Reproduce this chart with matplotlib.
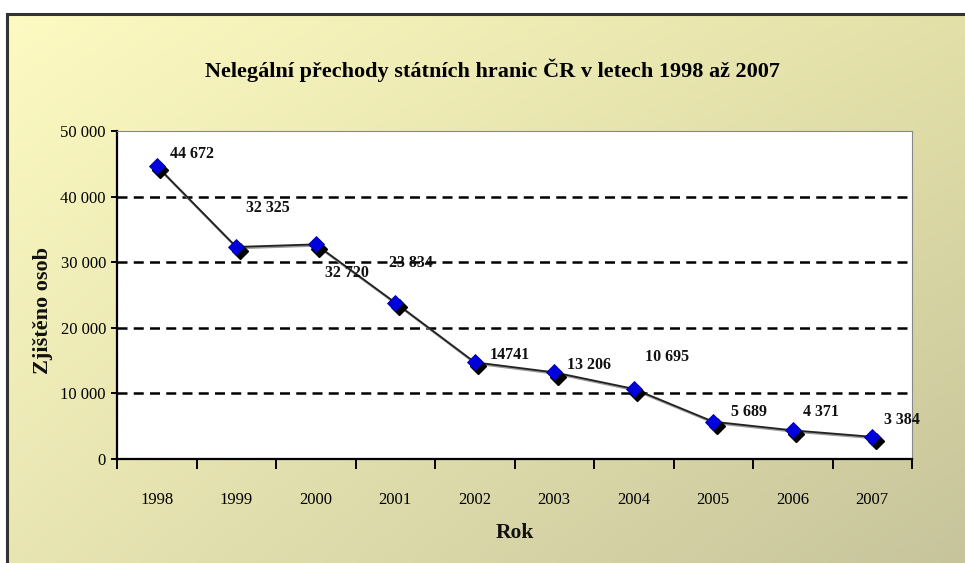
import numpy as np
import matplotlib
matplotlib.use("Agg")
import matplotlib.pyplot as plt
from matplotlib.transforms import offset_copy
from matplotlib.ticker import FuncFormatter, FixedLocator

years = ["1998", "1999", "2000", "2001", "2002", "2003", "2004", "2005", "2006", "2007"]
values = [44672, 32325, 32720, 23834, 14741, 13206, 10695, 5689, 4371, 3384]
value_labels = ["44 672", "32 325", "32 720", "23 834", "14741", "13 206", "10 695", "5 689", "4 371", "3 384"]
title = "Nelegální přechody státních hranic ČR v letech 1998 až 2007"
xlabel = "Rok"
ylabel = "Zjištěno osob"

# label offsets in pixels (dx to left edge, dy of center; positive = up)
label_dx = [13, 10, 9, -6, 15, 13, 11, 18, 10, 12]
label_dy = [12, 39, -29, 40, 7, 7, 32, 10, 18, 17]

W, H = 965, 563
fig = plt.figure(figsize=(W / 100, H / 100), dpi=100)
fig.patch.set_facecolor("white")

# background gradient panel
bg = fig.add_axes([7 / W, 0, 1 - 7 / W, 1 - 14 / H])
bg.set_axis_off()
c_tl = np.array([0.99, 0.98, 0.76])
c_tr = np.array([0.89, 0.88, 0.66])
c_bl = np.array([0.91, 0.90, 0.70])
c_br = np.array([0.78, 0.77, 0.61])
ny, nx = 60, 100
u = np.linspace(0, 1, nx)[None, :, None]
v = np.linspace(0, 1, ny)[:, None, None]
img = (1 - v) * ((1 - u) * c_tl + u * c_tr) + v * ((1 - u) * c_bl + u * c_br)
bg.imshow(img, aspect="auto", extent=[0, 1, 0, 1], interpolation="bilinear")
bg.set_xlim(0, 1)
bg.set_ylim(0, 1)

# frame lines
fig.add_artist(plt.Line2D([7 / W, 1], [1 - 14 / H, 1 - 14 / H], color="#333333", lw=2.2, transform=fig.transFigure))
fig.add_artist(plt.Line2D([7 / W, 7 / W], [0, 1 - 14 / H], color="#333333", lw=2.2, transform=fig.transFigure))

serif = ["Liberation Serif", "DejaVu Serif"]

ax = fig.add_axes([117 / W, 1 - 459 / H, (912 - 117) / W, (459 - 131) / H])
ax.set_facecolor("white")
x = np.arange(len(years))
ax.set_xlim(-0.5, len(years) - 0.5)
ax.set_ylim(0, 50000)

for yv in [10000, 20000, 30000, 40000]:
    ax.axhline(yv, color="black", lw=1.8, ls=(0, (4, 2.5)), zorder=1)

shadow = offset_copy(ax.transData, fig=fig, x=2.4, y=-3.0, units="points")
ax.plot(x, values, color="#9a9a9a", lw=1.6, transform=offset_copy(ax.transData, fig=fig, x=0.6, y=-0.9, units="points"), zorder=2)
ax.plot(x, values, color="#222222", lw=1.3, zorder=3)
ax.plot(x, values, ls="none", marker="D", ms=8.5, mfc="black", mec="black", transform=shadow, zorder=4)
ax.plot(x, values, ls="none", marker="D", ms=8.5, mfc="#0000dd", mec="#0000aa", mew=0.6, zorder=5)

for i, (val, lab) in enumerate(zip(values, value_labels)):
    ax.annotate(lab, (x[i], val), xytext=(label_dx[i] * 0.72, label_dy[i] * 0.72),
                textcoords="offset points", ha="left", va="center",
                fontsize=11.5, fontweight="bold", family=serif, color="#111111", zorder=6)

for side in ["top", "right"]:
    ax.spines[side].set_color("#888888")
    ax.spines[side].set_linewidth(0.8)
for side in ["left", "bottom"]:
    ax.spines[side].set_color("black")
    ax.spines[side].set_linewidth(1.6)

ax.set_yticks([0, 10000, 20000, 30000, 40000, 50000])
ax.yaxis.set_major_formatter(FuncFormatter(lambda v, p: f"{int(v):,}".replace(",", " ")))
ax.tick_params(axis="y", direction="out", length=4, width=1.4, pad=4, labelsize=12, colors="black")
ax.set_xticks(x)
ax.set_xticklabels(years)
ax.xaxis.set_minor_locator(FixedLocator(np.arange(-0.5, len(years), 1.0)))
ax.tick_params(axis="x", which="major", length=0, pad=24, labelsize=12)
ax.tick_params(axis="x", which="minor", direction="out", length=7, width=1.4)
for lbl in ax.get_xticklabels() + ax.get_yticklabels():
    lbl.set_family(serif)

fig.text(492 / W, 1 - 70 / H, title, ha="center", va="center", fontsize=16,
         fontweight="bold", family=serif, color="black")
fig.text(515 / W, 1 - 533 / H, xlabel, ha="center", va="center", fontsize=15.5,
         fontweight="bold", family=serif, color="#111111")
fig.text(43 / W, 1 - 310 / H, ylabel, ha="center", va="center", rotation=90, fontsize=16,
         fontweight="bold", family=serif, color="#111111")

fig.savefig("out.png", dpi=100)
